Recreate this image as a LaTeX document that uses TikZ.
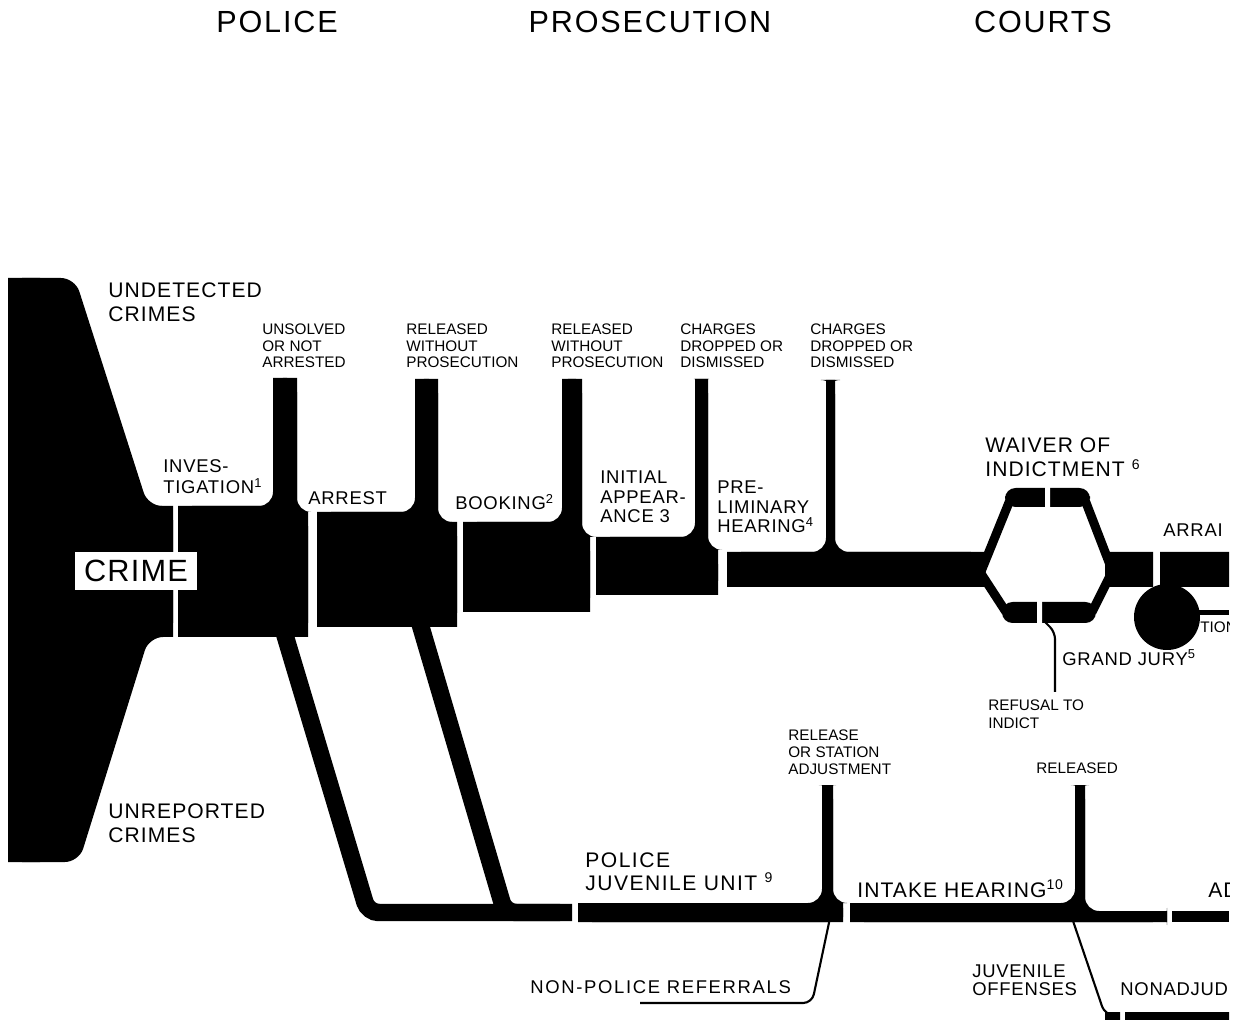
\documentclass[tikz,border=0pt]{standalone}
\usepackage{fontspec}
\setmainfont{Liberation Sans}
\begin{document}
\begin{tikzpicture}[x=0.02cm, y=-0.02cm,
    fillet/.style={fill=black, rounded corners=8pt},
    strip/.style={draw=black, line width=0.35cm, rounded corners=6pt},
    arm/.style={draw=black, line width=0.18cm},
    thinline/.style={draw=black, line width=1.2pt, rounded corners=5pt},
    gap/.style={fill=white},
    lbl/.style={anchor=base west, inner sep=0pt, align=left},
    smalllbl/.style={lbl, font=\fontsize{8.7}{9.64}\selectfont},
    stagelbl/.style={lbl, font=\fontsize{10.5}{11.3}\selectfont\addfontfeature{LetterSpace=4}},
    midlbl/.style={lbl, font=\fontsize{12}{14.2}\selectfont\addfontfeature{LetterSpace=5}},
    headlbl/.style={anchor=base, inner sep=0pt, font=\fontsize{17.4}{20}\selectfont\addfontfeature{LetterSpace=6}}
]
\useasboundingbox (0,0) rectangle (1242,1020);
\clip (0,0) rectangle (1229,1020);

% Headings
\node[headlbl] (police) at (277,33) {POLICE};
\node[headlbl] (prosecution) at (650,33) {PROSECUTION};
\node[headlbl] (courts) at (1043,33) {COURTS};

% Crime
\fill[fillet] (8,278) -- (75,278) -- (148,506) -- (173,506) -- (173,637) -- (149,637) -- (79,862) -- (8,862) -- cycle;
\fill (8,278) rectangle (40,330) (8,810) rectangle (40,862) (150,506) rectangle (173,637);

% Investigation
\fill[fillet] (178,637) -- (178,506) -- (273,506) -- (273,378) -- (297,378) -- (297,512) -- (308,512) -- (308,637) -- cycle;
\fill (178,506) rectangle (297,637) (273,378) rectangle (297,506) (297,512) rectangle (308,637);

% Arrest
\fill[fillet] (317,627) -- (317,512) -- (415,512) -- (415,379) -- (438,379) -- (438,522) -- (457,522) -- (457,627) -- cycle;
\fill (317,512) rectangle (415,627) (415,379) rectangle (438,627) (438,522) rectangle (457,627);

% Booking
\fill[fillet] (463,612) -- (463,522) -- (562,522) -- (562,379) -- (582,379) -- (582,537) -- (590,537) -- (590,612) -- cycle;
\fill (463,522) rectangle (562,612) (562,379) rectangle (582,612) (582,537) rectangle (590,612);

% Initial appearance
\fill[fillet] (596,595) -- (596,537) -- (695,537) -- (695,379) -- (708,379) -- (708,550) -- (718,550) -- (718,595) -- cycle;
\fill (596,537) rectangle (695,595) (695,379) rectangle (708,595) (708,550) rectangle (718,595);

% Preliminary hearing
\fill[fillet] (727,587) -- (727,552) -- (826,552) -- (826,380) -- (835,380) -- (835,552) -- (985,552) -- (985,587) -- cycle;
\fill (727,552) rectangle (985,587) (826,380) rectangle (835,552);

% Grand jury loop
\draw[arm] (980,574) -- (1010,500);
\draw[arm] (1085,500) -- (1112,570);
\draw[arm] (980,572) -- (1006,612);
\draw[arm] (1092,612) -- (1112,572);
\fill[rounded corners=6pt] (1005,488) rectangle (1090,507);
\fill[rounded corners=6pt] (1002,602) rectangle (1096,623);
\fill[gap] (1045,485) rectangle (1050,510) (1037,599) rectangle (1042,626);
\draw[thinline, rounded corners=4pt] (1043,620) -- (1055,632) -- (1055,692);

% Arraignment
\fill (1105,552) rectangle (1153,587) (1160,552) rectangle (1229,587);
\node[smalllbl] (tion) at (1200,633) {TION};
\fill (1198,610) rectangle (1229,615);
\fill (1167,617) circle[radius=33];

% Juvenile
\draw[strip] (281,622) -- (368,912.5) -- (572,912.5);
\draw[strip] (418,617) -- (505,912.5) -- (560,912.5);
\fill[fillet] (578,922) -- (578,903) -- (822,903) -- (822,785) -- (833,785) -- (833,903) -- (843,903) -- (843,922) -- cycle;
\fill (578,903) rectangle (822,922) (822,785) rectangle (833,922) (833,903) rectangle (843,922);
\fill[fillet] (850,922) -- (850,903) -- (1075,903) -- (1075,785) -- (1085,785) -- (1085,911) -- (1167,911) -- (1167,922) -- cycle;
\fill (850,903) rectangle (1075,922) (1075,785) rectangle (1085,922) (1085,911) rectangle (1167,922);
\fill (1172,911) rectangle (1229,922);
\draw[thinline] (830,918) -- (812,1003) -- (640,1003);
\draw[thinline] (1072,918) -- (1105,1015) -- (1118,1015);
\fill (1105,1012) rectangle (1120,1020) (1125,1012) rectangle (1229,1020);

% Crime box
\node[fill=white, inner sep=0pt, minimum width=2.44cm, minimum height=0.76cm,
      font=\fontsize{17.5}{20}\selectfont\addfontfeature{LetterSpace=4}] (crime) at (136,571) {CRIME};

% Labels
\node[midlbl] (undetected) at (108,322) {UNDETECTED\\CRIMES};
\node[smalllbl] (unsolved) at (262,368) {UNSOLVED\\OR NOT\\ARRESTED};
\node[smalllbl] (relpolice) at (406,368) {RELEASED\\WITHOUT\\PROSECUTION};
\node[smalllbl] (relbooking) at (551,368) {RELEASED\\WITHOUT\\PROSECUTION};
\node[smalllbl] (dropinitial) at (680,368) {CHARGES\\DROPPED OR\\DISMISSED};
\node[smalllbl] (droppre) at (810,368) {CHARGES\\DROPPED OR\\DISMISSED};
\node[stagelbl, font=\fontsize{10.5}{12}\selectfont\addfontfeature{LetterSpace=4}] (investigation) at (163,494) {INVES-\\TIGATION\textsuperscript{1}};
\node[stagelbl] (arrest) at (308,505) {ARREST};
\node[stagelbl] (booking) at (455,510) {BOOKING\textsuperscript{2}};
\node[stagelbl] (initial) at (600,523) {INITIAL\\APPEAR-\\ANCE 3};
\node[stagelbl] (prelim) at (717,533) {PRE-\\LIMINARY\\HEARING\textsuperscript{4}};
\node[midlbl] (waiver) at (985,477) {WAIVER OF\\INDICTMENT \textsuperscript{6}};
\node[stagelbl] (arraign) at (1163,537) {ARRAI};
\node[stagelbl] (grandjury) at (1062,665) {GRAND JURY\textsuperscript{5}};
\node[smalllbl, font=\fontsize{8.7}{10.2}\selectfont] (refusal) at (988,728) {REFUSAL TO\\INDICT};
\node[smalllbl] (station) at (788,774) {RELEASE\\OR STATION\\ADJUSTMENT};
\node[smalllbl] (released) at (1036,773) {RELEASED};
\node[midlbl] (unreported) at (108,843) {UNREPORTED\\CRIMES};
\node[midlbl, font=\fontsize{12}{13}\selectfont\addfontfeature{LetterSpace=7}] (juvunit) at (585,890) {POLICE\\JUVENILE UNIT \textsuperscript{9}};
\node[midlbl] (intake) at (857,897) {INTAKE HEARING\textsuperscript{10}};
\node[midlbl] (adj) at (1208,897) {AD};
\node[stagelbl, font=\fontsize{10.5}{11.3}\selectfont\addfontfeature{LetterSpace=9}] (referrals) at (530,993) {NON-POLICE REFERRALS};
\node[stagelbl, font=\fontsize{10.5}{10.2}\selectfont\addfontfeature{LetterSpace=4}] (offenses) at (972,995) {JUVENILE\\OFFENSES};
\node[stagelbl] (nonadj) at (1120,995) {NONADJUDI};
\end{tikzpicture}
\end{document}
